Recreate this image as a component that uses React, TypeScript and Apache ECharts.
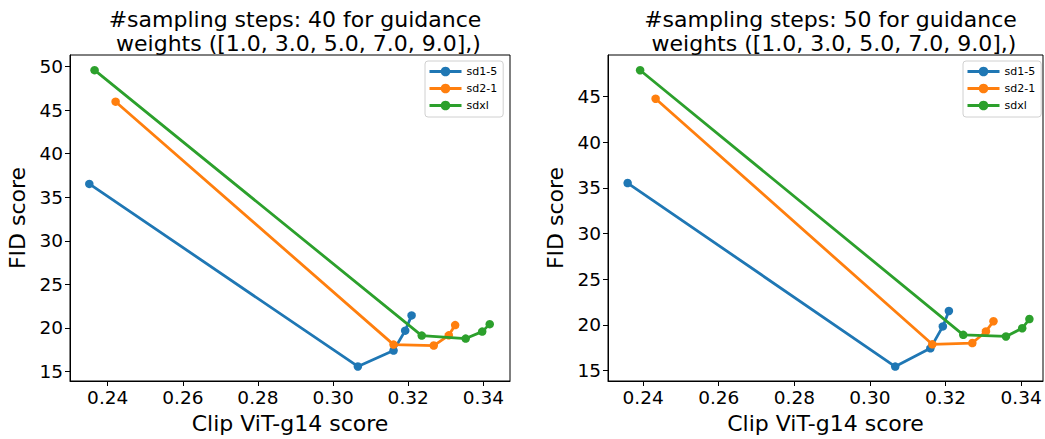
import React, { useEffect, useRef } from "react";
import * as echarts from "echarts";

const seriesNames = ["sd1-5", "sd2-1", "sdxl"];
const colors = ["#1f77b4", "#ff7f0e", "#2ca02c"];

// steps 40
const clip40_sd15 = [0.2351, 0.3066, 0.3161, 0.3192, 0.3209];
const fid40_sd15 = [36.53, 15.57, 17.4, 19.68, 21.43];
const clip40_sd21 = [0.2421, 0.3161, 0.3268, 0.3308, 0.3325];
const fid40_sd21 = [45.97, 18.08, 17.97, 19.14, 20.32];
const clip40_sdxl = [0.2365, 0.3236, 0.3353, 0.3397, 0.3417];
const fid40_sdxl = [49.59, 19.11, 18.77, 19.57, 20.43];

// steps 50
const clip50_sd15 = [0.2359, 0.3067, 0.316, 0.3193, 0.3209];
const fid50_sd15 = [35.54, 15.43, 17.43, 19.83, 21.52];
const clip50_sd21 = [0.2433, 0.3165, 0.3271, 0.3307, 0.3327];
const fid50_sd21 = [44.78, 17.87, 18.01, 19.28, 20.4];
const clip50_sdxl = [0.2392, 0.3247, 0.336, 0.3403, 0.3422];
const fid50_sdxl = [47.9, 18.91, 18.73, 19.63, 20.64];

const xTicks = [0.24, 0.26, 0.28, 0.3, 0.32, 0.34];
const yTicksLeft = [15, 20, 25, 30, 35, 40, 45, 50];
const yTicksRight = [15, 20, 25, 30, 35, 40, 45];

const titles = [
  "#sampling steps: 40 for guidance\n weights ([1.0, 3.0, 5.0, 7.0, 9.0],)",
  "#sampling steps: 50 for guidance\n weights ([1.0, 3.0, 5.0, 7.0, 9.0],)",
];

const zip = (xs: number[], ys: number[]) => xs.map((x, i) => [x, ys[i]]);

const FONT = "DejaVu Sans";

export default function App() {
  const ref = useRef<HTMLDivElement>(null);
  useEffect(() => {
    document.body.style.margin = "0";
    const chart = echarts.init(ref.current!, null, { renderer: "svg" });
    const grids = [
      { left: 70, top: 55, width: 440, height: 328 },
      { left: 608, top: 55, width: 435, height: 328 },
    ];
    const ranges = [
      { xmin: 0.22996, xmax: 0.3471, ymin: 13.9, ymax: 51.33, yt: yTicksLeft },
      { xmin: 0.2307, xmax: 0.3458, ymin: 13.85, ymax: 49.57, yt: yTicksRight },
    ];
    const data = [
      [zip(clip40_sd15, fid40_sd15), zip(clip40_sd21, fid40_sd21), zip(clip40_sdxl, fid40_sdxl)],
      [zip(clip50_sd15, fid50_sd15), zip(clip50_sd21, fid50_sd21), zip(clip50_sdxl, fid50_sdxl)],
    ];
    const axisLine = { show: true, onZero: false, lineStyle: { color: "#000", width: 1 } };
    const option: any = {
      animation: false,
      backgroundColor: "#fff",
      title: grids.map((g, i) => ({
        text: titles[i],
        left: g.left + g.width / 2,
        top: 2,
        textAlign: "center",
        textStyle: { fontFamily: FONT, fontSize: 22, fontWeight: "normal", color: "#000", lineHeight: 24 },
      })),
      grid: grids.map((g) => ({ ...g, show: true, borderColor: "#000", borderWidth: 1, backgroundColor: "transparent" })),
      xAxis: grids.map((g, i) => ({
        type: "value",
        gridIndex: i,
        min: ranges[i].xmin,
        max: ranges[i].xmax,
        name: "Clip ViT-g14 score",
        nameLocation: "middle",
        nameGap: 31,
        nameTextStyle: { fontFamily: FONT, fontSize: 22, color: "#000" },
        axisLine,
        splitLine: { show: false },
        axisTick: { show: true, inside: false, length: 5, customValues: xTicks, lineStyle: { color: "#000" } },
        axisLabel: {
          customValues: xTicks,
          fontFamily: FONT,
          fontSize: 18.5,
          color: "#000",
          margin: 7,
          formatter: (v: number) => v.toFixed(2),
        },
      })),
      yAxis: grids.map((g, i) => ({
        type: "value",
        gridIndex: i,
        min: ranges[i].ymin,
        max: ranges[i].ymax,
        name: "FID score",
        nameLocation: "middle",
        nameGap: 42,
        nameTextStyle: { fontFamily: FONT, fontSize: 22, color: "#000" },
        axisLine,
        splitLine: { show: false },
        axisTick: { show: true, inside: false, length: 5, customValues: ranges[i].yt, lineStyle: { color: "#000" } },
        axisLabel: {
          customValues: ranges[i].yt,
          fontFamily: FONT,
          fontSize: 18.5,
          color: "#000",
          margin: 7,
          formatter: (v: number) => String(Math.round(v)),
        },
      })),
      legend: [
        { left: 425, top: 61 },
        { left: 963, top: 61 },
      ].map((p) => ({
        ...p,
        orient: "vertical",
        data: seriesNames,
        itemWidth: 32,
        itemHeight: 12,
        itemGap: 6,
        padding: [5, 6, 6, 3],
        borderColor: "#d0d0d0",
        borderWidth: 1,
        borderRadius: 3,
        backgroundColor: "#fff",
        lineStyle: { width: 3 },
        textStyle: { fontFamily: FONT, fontSize: 11, color: "#000", padding: [0, 0, 0, 0] },
        selectedMode: false,
      })),
      series: data.flatMap((chartData, gi) =>
        chartData.map((d, si) => ({
          type: "line",
          name: seriesNames[si],
          xAxisIndex: gi,
          yAxisIndex: gi,
          data: d,
          color: colors[si],
          symbol: "circle",
          symbolSize: 8.5,
          lineStyle: { width: 2.8, color: colors[si] },
          itemStyle: { color: colors[si] },
          z: 2 + si,
        }))
      ),
    };
    chart.setOption(option);
    return () => chart.dispose();
  }, []);
  return <div ref={ref} style={{ width: 1045, height: 439 }} />;
}
